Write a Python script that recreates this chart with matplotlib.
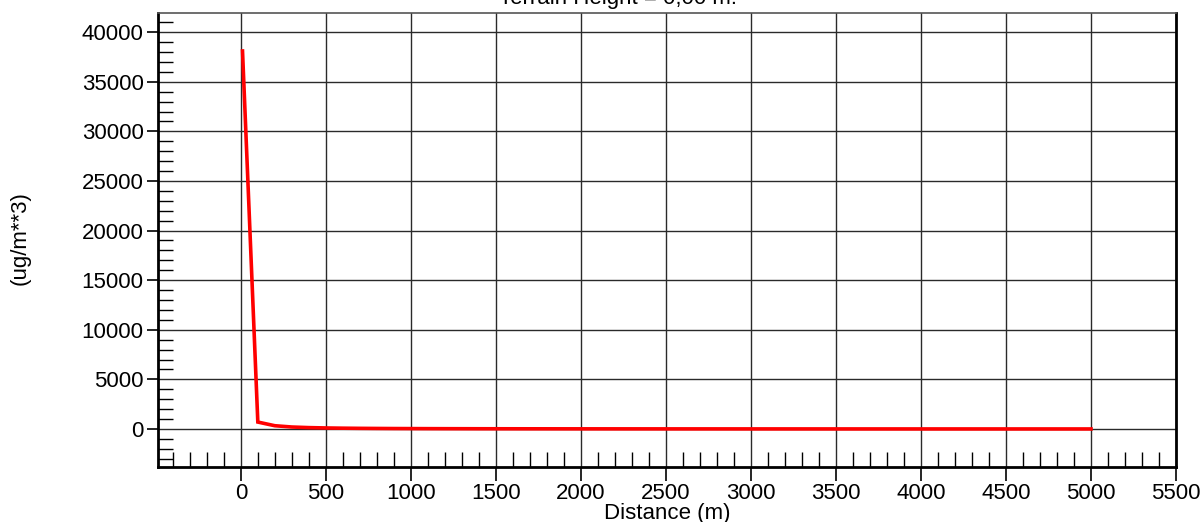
import matplotlib
matplotlib.use("Agg")
import matplotlib.pyplot as plt
from matplotlib.ticker import MultipleLocator

plt.rcParams['font.family'] = ['Liberation Sans', 'DejaVu Sans']

# concentration vs downwind distance
distance = [10, 100, 200, 300, 400, 500, 600, 700, 800, 900, 1000,
            1100, 1200, 1300, 1400, 1500, 1600, 1700, 1800, 1900, 2000,
            2100, 2200, 2300, 2400, 2500, 2600, 2700, 2800, 2900, 3000,
            3100, 3200, 3300, 3400, 3500, 3600, 3700, 3800, 3900, 4000,
            4100, 4200, 4300, 4400, 4500, 4600, 4700, 4800, 4900, 5000]
conc = [38100, 700, 330, 200, 140, 105, 82, 66, 55, 46, 40,
        35, 31, 28, 25, 23, 21, 19, 18, 16.5, 15.5,
        14.5, 13.6, 12.8, 12.1, 11.4, 10.8, 10.3, 9.8, 9.3, 8.9,
        8.5, 8.1, 7.8, 7.5, 7.2, 6.9, 6.7, 6.4, 6.2, 6.0,
        5.8, 5.6, 5.4, 5.3, 5.1, 5.0, 4.8, 4.7, 4.6, 4.5]

xticks = list(range(0, 5501, 500))
yticks = list(range(0, 40001, 5000))

fig = plt.figure(figsize=(12.02, 5.22), dpi=100)
ax = fig.add_axes([157.5 / 1202, 1 - 466.7 / 522, (1176 - 157.5) / 1202, (466.7 - 13.3) / 522])

ax.plot(distance, conc, color='red', lw=2.6, zorder=3, solid_joinstyle='miter')

ax.set_xlim(-490, 5500)
ax.set_ylim(-3800, 41900)
ax.set_xticks(xticks)
ax.set_yticks(yticks)
ax.xaxis.set_minor_locator(MultipleLocator(100))
ax.yaxis.set_minor_locator(MultipleLocator(1000))
ax.grid(True, which='major', color='#2a2a2a', lw=1)

ax.tick_params(which='major', direction='out', length=10, width=1.2, labelsize=16, pad=2)
ax.tick_params(which='minor', direction='in', length=11, width=1)
ax.tick_params(axis='y', which='major', length=8)

for side in ('left', 'right', 'bottom'):
    ax.spines[side].set_linewidth(2)
ax.spines['top'].set_linewidth(1.2)
ax.spines['top'].set_color('#555555')

ax.set_xlabel('Distance (m)', fontsize=16, labelpad=-1)
fig.text(20 / 1202, 1 - 238 / 522, '(ug/m**3)', rotation=90, ha='center', va='center', fontsize=16)
fig.text(618 / 1202, 1 - 4 / 522, 'Terrain Height = 0,00 m.', ha='center', va='baseline', fontsize=16)

fig.savefig('out.png', dpi=100)
